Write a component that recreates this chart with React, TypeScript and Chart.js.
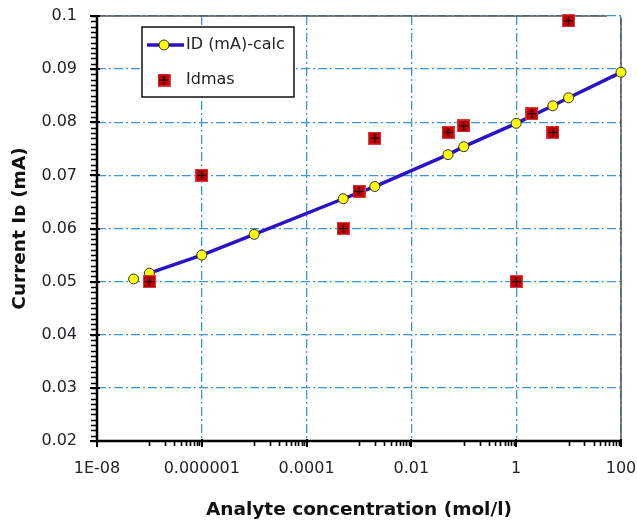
import React, { useEffect, useRef } from 'react';
import { Chart, registerables } from 'chart.js';

Chart.register(...registerables);

// ---- data ----
const calcConc = [5e-8, 1e-7, 1e-6, 1e-5, 5e-4, 2e-3, 0.05, 0.1, 1, 5, 10, 100];
const calcCurrent = [0.0505, 0.0516, 0.055, 0.0589, 0.0656, 0.0679, 0.0739, 0.0754, 0.0798, 0.0831, 0.0846, 0.0894];

const measConc = [1e-7, 1e-6, 5e-4, 1e-3, 2e-3, 0.05, 0.1, 1, 2, 5, 10];
const measCurrent = [0.05, 0.07, 0.06, 0.067, 0.077, 0.0781, 0.0793, 0.05, 0.0816, 0.0781, 0.0991];

const xTickValues = [1e-8, 1e-6, 1e-4, 0.01, 1, 100];
const xTickLabels = ['1E-08', '0.000001', '0.0001', '0.01', '1', '100'];
const xMinorDecades = [-7, -5, -3, -1, 1];
const xMinorMultipliers = [1, 2, 3, 4, 5, 6, 7, 8, 9];

const yMin = 0.02;
const yMax = 0.1;
const yStep = 0.01;
const yMinorStep = 0.001;

const calcLabel = 'ID (mA)-calc';
const measLabel = 'Idmas';
const xTitle = 'Analyte concentration (mol/l)';
const yTitle = 'Current I\u1D05 (mA)';

const FONT = '"DejaVu Sans", Verdana, sans-serif';
const LINE_COLOR = '#2a12c6';
const GRID_COLOR = '#3f95dc';
const TEXT_COLOR = '#222228';

function makeSquare(): HTMLCanvasElement {
  const c = document.createElement('canvas');
  c.width = 13;
  c.height = 13;
  const g = c.getContext('2d')!;
  g.fillStyle = '#c40000';
  g.fillRect(0, 0, 13, 13);
  g.strokeStyle = '#d84040';
  g.lineWidth = 1;
  g.strokeRect(0.5, 0.5, 12, 12);
  g.strokeStyle = '#000';
  g.lineWidth = 1.2;
  g.beginPath();
  g.moveTo(6.5, 2);
  g.lineTo(6.5, 11);
  g.moveTo(2, 6.5);
  g.lineTo(11, 6.5);
  g.stroke();
  return c;
}

export default function App() {
  const ref = useRef<HTMLCanvasElement | null>(null);

  useEffect(() => {
    if (!ref.current) return;
    const square = makeSquare();

    const axesPlugin = {
      id: 'excelAxes',
      beforeDatasetsDraw(chart: any) {
        const { ctx, chartArea: a, scales } = chart;
        const xs = scales.x;
        const ys = scales.y;
        ctx.save();
        // top & right frame
        ctx.strokeStyle = '#555';
        ctx.lineWidth = 1.5;
        ctx.beginPath();
        ctx.moveTo(a.left - 6, a.top);
        ctx.lineTo(a.right - 14, a.top);
        ctx.moveTo(a.right, a.top + 2);
        ctx.lineTo(a.right, a.bottom);
        ctx.stroke();

        ctx.strokeStyle = '#000';
        // y minor ticks
        ctx.lineWidth = 1.6;
        ctx.beginPath();
        const nMinor = Math.round((yMax - yMin) / yMinorStep);
        for (let i = 0; i <= nMinor; i++) {
          const v = yMin + i * yMinorStep;
          const py = Math.round(ys.getPixelForValue(v)) + 0.5;
          ctx.moveTo(a.left - 6, py);
          ctx.lineTo(a.left, py);
        }
        ctx.stroke();
        // y major ticks
        ctx.lineWidth = 2;
        ctx.beginPath();
        const nMajor = Math.round((yMax - yMin) / yStep);
        for (let i = 0; i <= nMajor; i++) {
          const v = yMin + i * yStep;
          const py = Math.round(ys.getPixelForValue(v));
          ctx.moveTo(a.left - 7, py);
          ctx.lineTo(a.left + 3, py);
        }
        ctx.stroke();
        // x minor ticks
        ctx.lineWidth = 1.6;
        ctx.beginPath();
        for (const e of xMinorDecades) {
          for (const k of xMinorMultipliers) {
            const px = Math.round(xs.getPixelForValue(k * Math.pow(10, e))) + 0.5;
            ctx.moveTo(px, a.bottom);
            ctx.lineTo(px, a.bottom + 5);
          }
        }
        ctx.stroke();
        // x major ticks
        ctx.lineWidth = 2;
        ctx.beginPath();
        for (const v of xTickValues) {
          const px = Math.round(xs.getPixelForValue(v));
          ctx.moveTo(px, a.bottom - 2);
          ctx.lineTo(px, a.bottom + 6);
        }
        ctx.stroke();
        // axis lines
        ctx.lineWidth = 2.5;
        ctx.beginPath();
        ctx.moveTo(a.left, a.top - 1);
        ctx.lineTo(a.left, a.bottom + 1);
        ctx.moveTo(a.left - 1, a.bottom);
        ctx.lineTo(a.right + 1, a.bottom);
        ctx.stroke();
        ctx.restore();
      },
      afterDraw(chart: any) {
        const { ctx, chartArea: a } = chart;
        const bx = a.left + 45;
        const by = a.top + 11;
        const bw = 152;
        const bh = 70;
        ctx.save();
        ctx.fillStyle = '#fff';
        ctx.fillRect(bx, by, bw, bh);
        ctx.strokeStyle = '#111';
        ctx.lineWidth = 1.5;
        ctx.strokeRect(bx, by, bw, bh);
        // line sample
        const ly = by + 18;
        ctx.strokeStyle = LINE_COLOR;
        ctx.lineWidth = 3.5;
        ctx.beginPath();
        ctx.moveTo(bx + 5, ly);
        ctx.lineTo(bx + 42, ly);
        ctx.stroke();
        ctx.fillStyle = '#ffff00';
        ctx.strokeStyle = '#333';
        ctx.lineWidth = 1;
        ctx.beginPath();
        ctx.arc(bx + 22, ly, 5, 0, Math.PI * 2);
        ctx.fill();
        ctx.stroke();
        // square sample
        const sy = by + 53;
        ctx.drawImage(square, bx + 22 - 6.5, sy - 6.5);
        ctx.fillStyle = TEXT_COLOR;
        ctx.font = '16px ' + FONT;
        ctx.textAlign = 'left';
        ctx.textBaseline = 'middle';
        ctx.fillText(calcLabel, bx + 44, ly);
        ctx.fillText(measLabel, bx + 44, sy);
        ctx.restore();
      },
    };

    const chart = new Chart(ref.current, {
      type: 'scatter',
      data: {
        datasets: [
          {
            label: measLabel,
            data: measConc.map((x, i) => ({ x, y: measCurrent[i] })),
            pointStyle: square as any,
            pointRadius: 9,
            showLine: false,
            order: 0,
            clip: false as any,
          },
          {
            label: calcLabel,
            data: calcConc.map((x, i) => ({ x, y: calcCurrent[i] })),
            showLine: true,
            borderColor: LINE_COLOR,
            borderWidth: 3.5,
            pointRadius: 5,
            pointBackgroundColor: '#ffff00',
            pointBorderColor: '#333',
            pointBorderWidth: 1,
            order: 1,
            clip: false as any,
            segment: {
              borderColor: (c: any) => (c.p0DataIndex === 0 ? 'rgba(0,0,0,0)' : LINE_COLOR),
            },
          } as any,
        ],
      },
      options: {
        animation: false,
        responsive: false,
        devicePixelRatio: 1,
        layout: { padding: { left: 0, top: 16, right: 16, bottom: 0 } },
        plugins: {
          legend: { display: false },
          tooltip: { enabled: false },
        },
        scales: {
          x: {
            type: 'logarithmic',
            min: 1e-8,
            max: 100,
            afterBuildTicks: (s: any) => {
              s.ticks = xTickValues.map((v) => ({ value: v }));
            },
            afterFit: (s: any) => {
              s.height = 80;
              s.paddingLeft = 0;
              s.paddingRight = 0;
              s.paddingTop = 0;
              s.paddingBottom = 0;
            },
            grid: { color: GRID_COLOR, lineWidth: 1.3, drawTicks: false },
            border: { display: false, dash: [9, 3, 2, 3] },
            ticks: {
              padding: 18,
              maxRotation: 0,
              autoSkip: false,
              color: TEXT_COLOR,
              font: { size: 16, family: FONT },
              callback: (_v: any, i: number) => xTickLabels[i],
            },
            title: {
              display: true,
              text: xTitle,
              color: '#111',
              font: { size: 18.5, family: FONT, weight: 'bold' },
              padding: { top: 0, bottom: 0 },
            },
          },
          y: {
            type: 'linear',
            min: yMin,
            max: yMax,
            afterFit: (s: any) => {
              s.width = 97;
              s.paddingLeft = 0;
              s.paddingRight = 0;
              s.paddingTop = 0;
              s.paddingBottom = 0;
            },
            grid: { color: GRID_COLOR, lineWidth: 1.3, drawTicks: false },
            border: { display: false, dash: [9, 3, 2, 3] },
            ticks: {
              stepSize: yStep,
              padding: 20,
              color: TEXT_COLOR,
              font: { size: 16, family: FONT },
              callback: (v: any) => String(+Number(v).toFixed(3)),
            },
            title: {
              display: true,
              text: yTitle,
              color: '#111',
              font: { size: 18.5, family: FONT, weight: 'bold' },
              padding: { top: 9, bottom: 0 },
            },
          },
        },
      },
      plugins: [axesPlugin],
    });

    return () => chart.destroy();
  }, []);

  return (
    <div style={{ position: 'absolute', left: 0, top: 0, width: 637, height: 521, background: '#fff' }}>
      <canvas ref={ref} width={637} height={521} style={{ display: 'block' }} />
    </div>
  );
}
